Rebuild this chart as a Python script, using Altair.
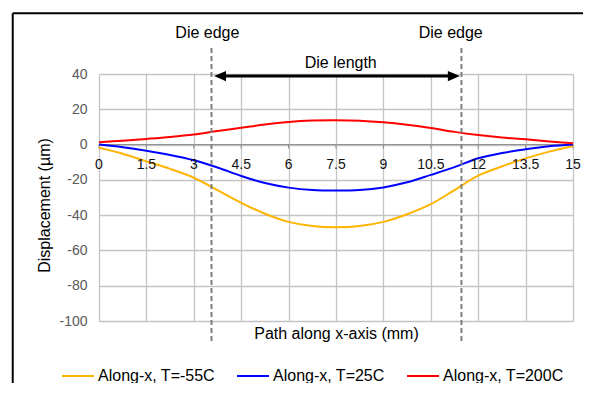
import altair as alt
import pandas as pd

# ---------------- data ----------------
x_vals = [0, 0.75, 1.5, 2.25, 3, 3.75, 4.5, 5.25, 6, 6.75, 7.5,
          8.25, 9, 9.75, 10.5, 11.25, 12, 12.75, 13.5, 14.25, 15]
t_m55 = [-1.8, -5.2, -9.5, -13.8, -18.8, -25.8, -33.0, -39.2, -43.8, -46.2, -46.9,
         -46.2, -43.8, -39.5, -33.8, -25.8, -17.6, -12.4, -7.8, -4.0, -0.8]
t_25 = [0.0, -1.5, -3.5, -5.9, -8.9, -13.0, -17.8, -21.8, -24.4, -25.8, -26.1,
        -25.8, -24.3, -21.4, -17.2, -12.8, -7.8, -4.8, -2.7, -1.0, 0.0]
t_200 = [1.3, 2.2, 3.2, 4.3, 5.7, 7.7, 9.5, 11.4, 12.8, 13.6, 13.8,
         13.5, 12.6, 11.2, 9.4, 7.2, 5.4, 4.0, 3.0, 1.8, 0.7]

series_names = ["Along-x, T=-55C", "Along-x, T=25C", "Along-x, T=200C"]
series_colors = ["#FFB400", "#0000FF", "#FF0000"]

x_ticks = [0, 1.5, 3, 4.5, 6, 7.5, 9, 10.5, 12, 13.5, 15]
x_tick_labels = ["0", "1.5", "3", "4.5", "6", "7.5", "9", "10.5", "12", "13.5", "15"]
y_ticks = [40, 20, 0, -20, -40, -60, -80, -100]

die_edges = [3.56, 11.47]
die_edge_label_x = [3.43, 11.13]
die_edge_label = ["Die edge", "Die edge"]
arrow_tips = [3.64, 11.42]
arrow_label = ["Die length"]

# ---------------- tables ----------------
rows = []
for name, vals in zip(series_names, [t_m55, t_25, t_200]):
    for xv, yv in zip(x_vals, vals):
        rows.append({"x": xv, "y": yv, "series": name})
df = pd.DataFrame(rows)
df_ticks = pd.DataFrame({"x": x_ticks, "label": x_tick_labels})
df_edges = pd.DataFrame({"x": die_edges})
df_edge_lbl = pd.DataFrame({"x": die_edge_label_x, "label": die_edge_label})
df_one = pd.DataFrame({"label": arrow_label})
df_head_l = pd.DataFrame({"x": [arrow_tips[0] + 0.19]})
df_head_r = pd.DataFrame({"x": [arrow_tips[1] - 0.19]})

FONT = "Liberation Sans"
xscale = alt.Scale(domain=[0, 15], nice=False, zero=False)
yscale = alt.Scale(domain=[-100, 40], nice=False, zero=False)

XAX = alt.Axis(values=x_ticks, grid=True, labels=False, ticks=False,
               domain=False, title="Path along x-axis (mm)",
               titleFontSize=16, titleFontWeight="normal",
               titleColor="#000000", titlePadding=4,
               gridColor="#C4C4C4", gridWidth=1.3)
YAX = alt.Axis(values=y_ticks, grid=True, ticks=False, domain=False,
               labelOverlap=False, labelExpr="toString(datum.value)",
               labelFontSize=14, labelColor="#595959", labelPadding=12,
               title="Displacement (µm)", titleFontSize=16,
               titleFontWeight="normal", titleColor="#000000",
               titlePadding=6, titleY=131,
               gridColor="#C4C4C4", gridWidth=1.3)


def XD(v):
    return alt.XDatum(v, axis=XAX, scale=xscale)


def X2D(v):
    return alt.X2Datum(v)


def YD(v):
    return alt.YDatum(v, axis=YAX, scale=yscale)


def Y2D(v):
    return alt.Y2Datum(v)


XF = alt.X("x:Q", axis=XAX, scale=xscale)

lines = alt.Chart(df).mark_line(strokeWidth=2, interpolate="catmull-rom").encode(
    x=XF,
    y=alt.Y("y:Q", scale=yscale, axis=YAX),
    color=alt.Color("series:N",
                    scale=alt.Scale(domain=series_names, range=series_colors),
                    sort=series_names,
                    legend=alt.Legend(title=None, orient="none", legendX=-38,
                                      legendY=285, direction="horizontal",
                                      symbolType="stroke", symbolSize=1024,
                                      symbolStrokeWidth=2, labelFontSize=16,
                                      labelColor="#000000", labelOffset=3,
                                      columnPadding=18, labelFont=FONT)),
)

zero_line = alt.Chart(df_one).mark_rule(color="#8C8C8C", strokeWidth=1).encode(
    y=YD(0))

zero_ticks = alt.Chart(df_ticks).mark_rule(color="#8C8C8C", strokeWidth=1).encode(
    x=XF, y=YD(0), y2=Y2D(-2.3))

tick_text = alt.Chart(df_ticks).mark_text(
    fontSize=14, baseline="alphabetic", dy=24, color="#111111", font=FONT
).encode(x=XF, y=YD(0), text="label:N")

edges = alt.Chart(df_edges).mark_rule(
    strokeDash=[5, 3], strokeWidth=2, color="#7F7F7F", clip=False
).encode(x=XF, y=YD(54.7), y2=Y2D(-113))

edge_text = alt.Chart(df_edge_lbl).mark_text(
    fontSize=16, baseline="middle", color="#000000", font=FONT, clip=False
).encode(x=XF, y=YD(63.5), text="label:N")

shaft = alt.Chart(df_one).mark_rule(strokeWidth=3, color="#000000", clip=False).encode(
    x=XD(arrow_tips[0] + 0.25), x2=X2D(arrow_tips[1] - 0.25), y=YD(38.8))

head_l = alt.Chart(df_head_l).mark_point(
    shape="M -1 0 L 1 -0.85 L 1 0.85 Z", size=144, filled=True,
    color="#000000", opacity=1, clip=False
).encode(x=XF, y=YD(38.8))
head_r = alt.Chart(df_head_r).mark_point(
    shape="M 1 0 L -1 -0.85 L -1 0.85 Z", size=144, filled=True,
    color="#000000", opacity=1, clip=False
).encode(x=XF, y=YD(38.8))

length_text = alt.Chart(df_one).mark_text(
    fontSize=16, baseline="middle", color="#000000", font=FONT, clip=False
).encode(x=XD(7.65), y=YD(46), text="label:N")

border_top = alt.Chart(df_one).mark_rule(strokeWidth=2, color="#000000", clip=False).encode(
    x=XD(-2.73), x2=X2D(17), y=YD(74.5))
border_left = alt.Chart(df_one).mark_rule(strokeWidth=2, color="#000000", clip=False).encode(
    x=XD(-2.73), y=YD(74.5), y2=Y2D(-180))

chart = alt.layer(
    zero_line, zero_ticks, lines, tick_text, edges, edge_text,
    shaft, head_l, head_r, length_text, border_top, border_left
).properties(
    width=474, height=247,
    autosize=alt.AutoSizeParams(type="none"),
    padding={"left": 91, "top": 66, "right": 10, "bottom": 62},
).configure(font=FONT).configure_view(stroke=None)

chart.save("out.html", embed_options={"renderer": "svg", "actions": False})
